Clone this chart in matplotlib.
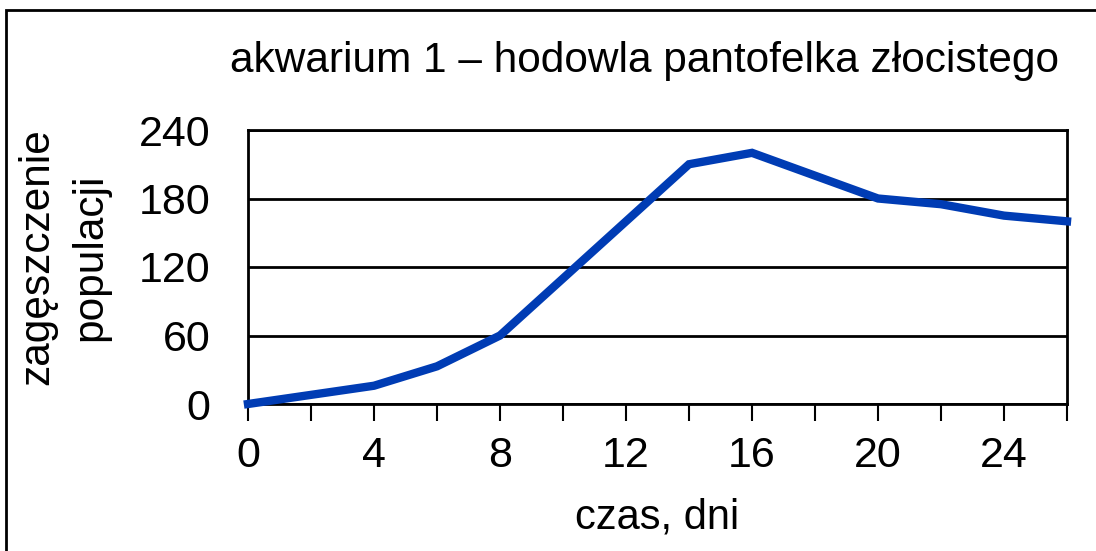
import matplotlib
matplotlib.use("Agg")
import matplotlib.pyplot as plt
from matplotlib.patches import Rectangle

plt.rcParams['font.family'] = ['Liberation Sans', 'DejaVu Sans']

# dane
dni = [0, 2, 4, 6, 8, 10, 12, 14, 16, 18, 20, 22, 24, 26]
zageszczenie = [0, 8, 16, 33, 60, 110, 160, 210, 220, 200, 180, 175, 165, 160]
y_ticks = [0, 60, 120, 180, 240]
x_labels = [0, 4, 8, 12, 16, 20, 24]

W, H = 1096, 551
fig = plt.figure(figsize=(W / 100, H / 100), dpi=100)
ax = fig.add_axes([248 / W, 1 - 404 / H, (1067 - 248) / W, (404 - 130) / H])

ax.plot(dni, zageszczenie, color='#003cb4', lw=6, solid_joinstyle='miter', zorder=3, clip_on=False)

ax.set_xlim(0, 26)
ax.set_ylim(0, 240)
ax.set_yticks(y_ticks)
ax.set_xticks(x_labels)
ax.set_xticks(range(0, 27, 2), minor=True)
ax.tick_params(axis='y', length=0, pad=27, labelsize=31)
ax.tick_params(axis='x', which='both', length=12, width=1.5, direction='out', labelsize=31)
ax.tick_params(axis='x', which='major', pad=11)
for s in ax.spines.values():
    s.set_linewidth(2)
ax.yaxis.grid(True, color='black', lw=2)
ax.set_axisbelow(True)

fig.text(644 / W, 1 - 61 / H, 'akwarium 1 – hodowla pantofelka złocistego', ha='center', va='center', fontsize=30.5)
fig.text(37 / W, 1 - 257 / H, 'zagęszczenie', ha='center', va='center', rotation=90, fontsize=30.5)
fig.text(90 / W, 1 - 257 / H, 'populacji', ha='center', va='center', rotation=90, fontsize=30.5)
fig.text(657 / W, 1 - 517 / H, 'czas, dni', ha='center', va='center', fontsize=30)

# ramka całego wykresu
fig.patches.append(Rectangle((6 / W, -0.1), 1.1, 1 - 10 / H + 0.1, transform=fig.transFigure,
                             fill=False, edgecolor='black', lw=2))

fig.savefig('out.png', dpi=100)
